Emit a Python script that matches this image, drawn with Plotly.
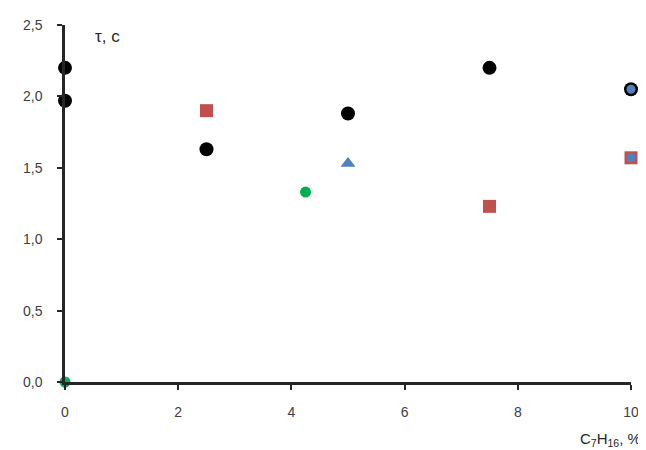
import plotly.graph_objects as go

black_x = [0, 0, 2.5, 5, 7.5, 10]
black_y = [2.2, 1.97, 1.63, 1.88, 2.2, 2.05]
red_x = [2.5, 7.5, 10]
red_y = [1.9, 1.23, 1.57]
blue_tri_x = [5]
blue_tri_y = [1.53]
blue_x = [10, 10]
blue_y = [2.05, 1.57]
green_x = [0, 4.25]
green_y = [0.0, 1.33]

x_ticks = [0, 2, 4, 6, 8, 10]
y_ticks = [0.0, 0.5, 1.0, 1.5, 2.0, 2.5]
y_tick_text = ["0,0", "0,5", "1,0", "1,5", "2,0", "2,5"]

fig = go.Figure()
fig.add_trace(go.Scatter(x=black_x, y=black_y, mode="markers",
                         marker=dict(symbol="circle", size=14, color="#000000")))
fig.add_trace(go.Scatter(x=red_x, y=red_y, mode="markers",
                         marker=dict(symbol="square", size=13, color="#c0504d")))
fig.add_trace(go.Scatter(x=blue_tri_x, y=blue_tri_y, mode="markers",
                         marker=dict(symbol="triangle-up", size=13, color="#4f81bd")))
fig.add_trace(go.Scatter(x=blue_x, y=blue_y, mode="markers",
                         marker=dict(symbol="circle", size=9, color="#4f81bd")))
fig.add_trace(go.Scatter(x=green_x, y=green_y, mode="markers",
                         marker=dict(symbol="circle", size=11, color="#00b050")))

fig.update_layout(
    width=638, height=442,
    margin=dict(l=57, r=15, t=17, b=68),
    paper_bgcolor="white", plot_bgcolor="white",
    showlegend=False,
    font=dict(family="Liberation Sans, Arial, sans-serif", size=14, color="#404040"),
)
fig.update_xaxes(range=[0, 10], tickvals=x_ticks, ticktext=[str(v) for v in x_ticks],
                 showgrid=False, zeroline=False, showline=True, linecolor="#262626", linewidth=2.5,
                 ticks="outside", ticklen=5, tickcolor="#262626", tickwidth=1.5,
                 ticklabelstandoff=10, automargin=False)
fig.update_yaxes(range=[0, 2.5], tickvals=y_ticks, ticktext=y_tick_text,
                 showgrid=False, zeroline=False, showline=True, linecolor="#262626", linewidth=2.5,
                 ticks="outside", ticklen=5, tickcolor="#262626", tickwidth=1.5,
                 ticklabelstandoff=12, automargin=False)
fig.update_traces(cliponaxis=False)

fig.add_annotation(text="τ, c", xref="paper", yref="paper", x=0.05, y=1.0,
                   xanchor="left", yanchor="top", showarrow=False,
                   font=dict(size=17, color="#262626"))
fig.add_annotation(text="C<sub>7</sub>H<sub>16</sub>, %", xref="paper", yref="paper",
                   x=1.021, y=-0.162, xanchor="right", yanchor="middle", showarrow=False,
                   font=dict(size=15, color="#262626"))

fig.write_html("out.html")
